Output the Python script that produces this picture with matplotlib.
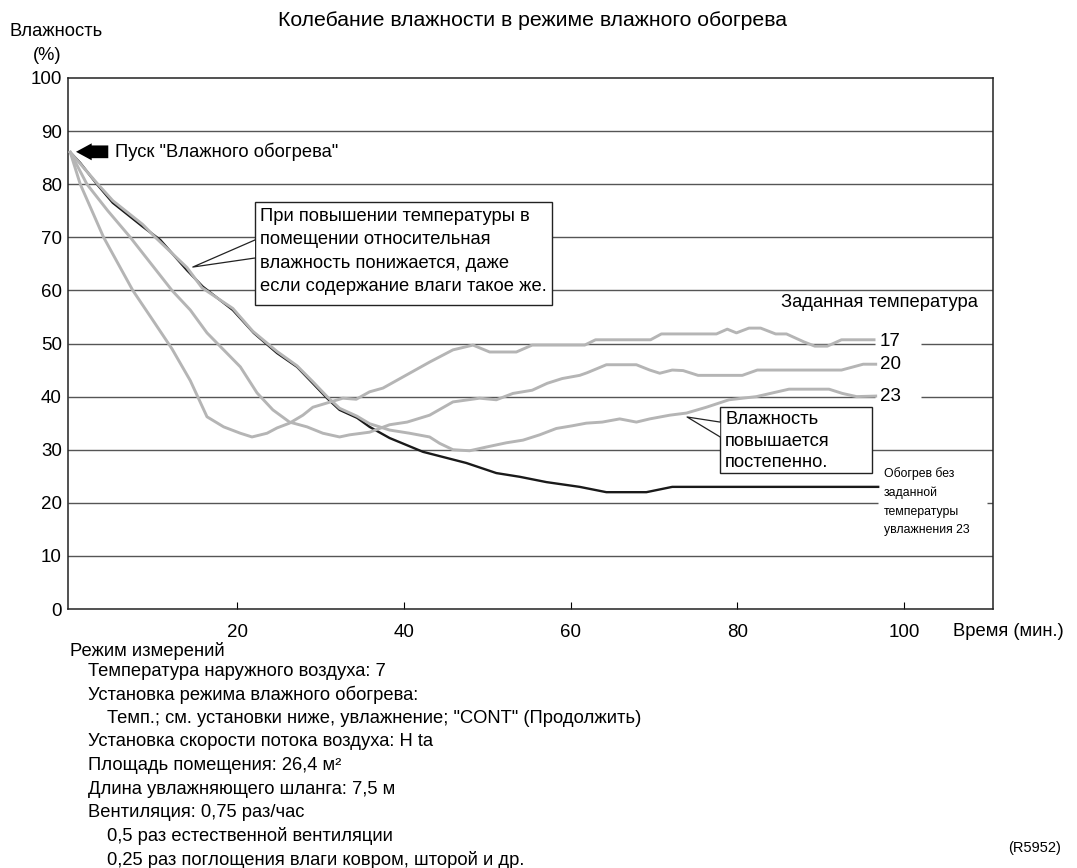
import matplotlib
matplotlib.use('Agg')
import matplotlib.pyplot as plt
from matplotlib.patches import Rectangle, Polygon

plt.rcParams['font.family'] = ['Liberation Sans', 'DejaVu Sans']
plt.rcParams['font.size'] = 13.2

####################################
# Data (time in min, humidity in %)
####################################
# no set temperature (humidification 23) - black curve
t_noset = [0, 1.2, 3.2, 5.1, 8.7, 10.8, 14.0, 15.9, 19.5, 22.0, 24.8, 27.2, 29.1,
           30.8, 32.3, 34.4, 35.9, 38.3, 42.3, 47.5, 51.1, 53.9, 57.1, 61.1, 64.3,
           69.1, 72.2, 96.9]
h_noset = [86, 84, 80, 76.5, 72, 69.5, 63.8, 60.7, 56.3, 52, 48.2, 45.6, 42.5,
           39.7, 37.5, 36, 34.3, 32.2, 29.6, 27.5, 25.6, 24.9, 23.9, 23, 22,
           22, 23, 23]

# set temperature 17
t_17 = [0, 1.2, 4.0, 7.5, 9.9, 12.2, 14.4, 16.4, 18.4, 20.4, 21.8, 23.6, 24.8,
        26.3, 27.9, 29.1, 30.8, 32.7, 34.3, 35.9, 37.5, 39.9, 43.1, 45.9, 48.3,
        50.3, 53.5, 55.4, 61.7, 63.0, 69.6, 70.9, 77.5, 78.8, 79.9, 81.4, 82.8,
        84.6, 85.9, 88.0, 89.3, 90.8, 92.5, 96.4]
h_17 = [86, 80, 70, 60, 54.4, 49, 43, 36.2, 34.3, 33.1, 32.4, 33.1, 34.1,
        35, 36.5, 38, 38.8, 39.7, 39.5, 40.9, 41.6, 43.7, 46.5, 48.8, 49.7,
        48.4, 48.4, 49.7, 49.7, 50.7, 50.7, 51.8, 51.8, 52.7, 52, 52.9, 52.9,
        51.8, 51.8, 50.3, 49.5, 49.5, 50.7, 50.7]

# set temperature 20
t_20 = [0, 2.0, 4.5, 7.2, 9.7, 12.2, 14.4, 16.4, 18.4, 20.4, 22.4, 24.3, 26.3,
        28.4, 30.3, 32.3, 33.5, 35.9, 38.3, 40.4, 43.1, 45.9, 49.1, 51.1, 53.1,
        55.4, 57.2, 59.0, 61.1, 62.0, 64.3, 67.9, 69.5, 70.7, 72.2, 73.5, 75.3,
        80.6, 82.4, 92.5, 95.1, 96.6]
h_20 = [86, 80, 75, 70, 65, 60, 56.3, 52, 48.8, 45.6, 40.7, 37.5, 35.2,
        34.3, 33.1, 32.4, 32.8, 33.3, 34.7, 35.2, 36.5, 39, 39.7, 39.4, 40.6,
        41.2, 42.5, 43.4, 44, 44.5, 46, 46, 45, 44.4, 45, 44.9, 44,
        44, 45, 45, 46.1, 46.1]

# set temperature 23
t_23 = [0, 1.5, 3.2, 5.1, 8.7, 10.2, 14.0, 15.8, 19.5, 21.9, 24.8, 27.2, 29.1,
        30.8, 32.3, 34.4, 35.9, 38.3, 40.7, 43.1, 44.3, 45.9, 47.9, 49.9, 52.3,
        54.3, 56.3, 58.3, 60.2, 61.9, 63.8, 65.9, 67.9, 69.5, 71.9, 73.9, 76.3,
        79.0, 82.3, 86.2, 91.0, 92.6, 94.3, 96.6]
h_23 = [86, 83.3, 80.2, 76.9, 72.4, 70, 64.3, 60.5, 56.6, 52.3, 48.5, 45.8, 42.8,
        40, 37.8, 36.3, 34.9, 33.7, 33.1, 32.4, 31.2, 30, 29.8, 30.5, 31.3,
        31.8, 32.8, 34, 34.5, 35, 35.2, 35.8, 35.2, 35.8, 36.5, 36.9, 38,
        39.4, 40, 41.4, 41.4, 40.6, 40, 40.1]

set_labels = ['17', '20', '23']
set_label_y = [50.3, 46.0, 40.1]

x_ticks = [20, 40, 60, 80, 100]
y_ticks = list(range(0, 101, 10))

conditions = [
    (0, 'Режим измерений'),
    (1, 'Температура наружного воздуха: 7'),
    (1, 'Установка режима влажного обогрева:'),
    (2, 'Темп.; см. установки ниже, увлажнение; "CONT" (Продолжить)'),
    (1, 'Установка скорости потока воздуха: H ta'),
    (1, 'Площадь помещения: 26,4 м²'),
    (1, 'Длина увлажняющего шланга: 7,5 м'),
    (1, 'Вентиляция: 0,75 раз/час'),
    (2, '0,5 раз естественной вентиляции'),
    (2, '0,25 раз поглощения влаги ковром, шторой и др.'),
]

####################################
# Figure
####################################
W, H = 1077, 868
def fx(px):
    return px / W
def fy(py):
    return 1 - py / H

fig = plt.figure(figsize=(W / 100, H / 100), dpi=100)
ax = fig.add_axes([fx(68), fy(609), (993 - 68) / W, (609 - 78) / H])
xmin, xmax = -0.27, 110.67
ax.set_xlim(xmin, xmax)
ax.set_ylim(0, 100)

for s in ax.spines.values():
    s.set_color('#222222')
    s.set_linewidth(1.1)

ax.set_xticks(x_ticks)
ax.set_yticks(y_ticks)
ax.tick_params(axis='x', direction='in', length=5, width=0.8, pad=10.5, labelsize=13.5)
ax.tick_params(axis='y', length=0, pad=4.5, labelsize=13.5)

# horizontal grid, with gaps where the labels sit
gaps = {50: (96.5, 102.0), 40: (96.5, 102.0), 20: (96.9, 109.95)}
for lev in y_ticks[1:-1]:
    if lev in gaps:
        g0, g1 = gaps[lev]
        ax.hlines([lev, lev], [xmin, g1], [g0, xmax], color='#555555', lw=1.0, zorder=1)
    else:
        ax.axhline(lev, color='#555555', lw=1.0, zorder=1)

gray = '#b5b5b5'
ax.plot(t_noset, h_noset, color='#1a1a1a', lw=1.7, zorder=2, solid_joinstyle='round')
ax.plot(t_17, h_17, color=gray, lw=2.1, zorder=3, solid_joinstyle='round')
ax.plot(t_20, h_20, color=gray, lw=2.1, zorder=3, solid_joinstyle='round')
ax.plot(t_23, h_23, color=gray, lw=2.1, zorder=3, solid_joinstyle='round')

for lab, yy in zip(set_labels, set_label_y):
    ax.text(97.1, yy, lab, ha='left', va='center', fontsize=13.5, zorder=6)
ax.text(108.9, 57.8, 'Заданная температура', ha='right', va='center')

narrow = ['Liberation Sans Narrow', 'Liberation Sans', 'DejaVu Sans']
for i, line in enumerate(['Обогрев без', 'заданной', 'температуры', 'увлажнения 23']):
    ax.text(97.6, (609 - 474 - 18.8 * i) / 5.31, line, ha='left', va='center',
            fontsize=8.8, family=narrow)

# start arrow
ax.fill([0.69, 2.57, 2.57, 4.56, 4.56, 2.57, 2.57],
        [86.1, 87.7, 87.3, 87.3, 84.9, 84.9, 84.5], color='black', lw=0, zorder=5)
ax.text(5.37, 86.1, 'Пуск "Влажного обогрева"', ha='left', va='center')

# callout 1
ax.add_patch(Rectangle((22.16, 57.25), 57.8 - 22.16, 76.7 - 57.25, fc='white',
                       ec='#222222', lw=1.0, zorder=7))
ax.add_patch(Polygon([(14.7, 64.4), (22.16, 69.5), (22.16, 66.1)], closed=True,
                     fc='white', ec='none', zorder=8))
ax.plot([22.16, 14.7, 22.16], [69.5, 64.4, 66.1], color='#222222', lw=0.9, zorder=8)
box1 = ['При повышении температуры в', 'помещении относительная',
        'влажность понижается, даже', 'если содержание влаги такое же.']
for i, line in enumerate(box1):
    ax.text(22.76, (609 - 216.7 - 23.3 * i) / 5.31, line, ha='left', va='center',
            zorder=9)

# callout 2
ax.add_patch(Rectangle((77.95, 25.6), 96.16 - 77.95, 38.04 - 25.6, fc='white',
                       ec='#222222', lw=1.0, zorder=7))
ax.add_patch(Polygon([(73.98, 36.16), (77.95, 35.2), (77.95, 32.4)], closed=True,
                     fc='white', ec='none', zorder=8))
ax.plot([77.95, 73.98, 77.95], [35.2, 36.16, 32.4], color='#222222', lw=0.9, zorder=8)
for i, line in enumerate(['Влажность', 'повышается', 'постепенно.']):
    ax.text(78.55, (609 - 419.3 - 21.7 * i) / 5.31, line, ha='left', va='center',
            zorder=9)

####################################
# Texts around the axes
####################################
fig.text(fx(533), fy(21), 'Колебание влажности в режиме влажного обогрева',
         ha='center', va='center', fontsize=15.3)
fig.text(fx(10), fy(31), 'Влажность', ha='left', va='center')
fig.text(fx(47), fy(55), '(%)', ha='center', va='center')
fig.text(fx(953), fy(632), 'Время (мин.)', ha='left', va='center')
fig.text(fx(1061), fy(848), '(R5952)', ha='right', va='center', fontsize=10.5)

indent = {0: 70, 1: 88, 2: 107}
for i, (lvl, line) in enumerate(conditions):
    yy = 651 if i == 0 else 671 + 23.6 * (i - 1)
    fig.text(fx(indent[lvl]), fy(yy), line, ha='left', va='center')

fig.savefig('out.png', dpi=100)
